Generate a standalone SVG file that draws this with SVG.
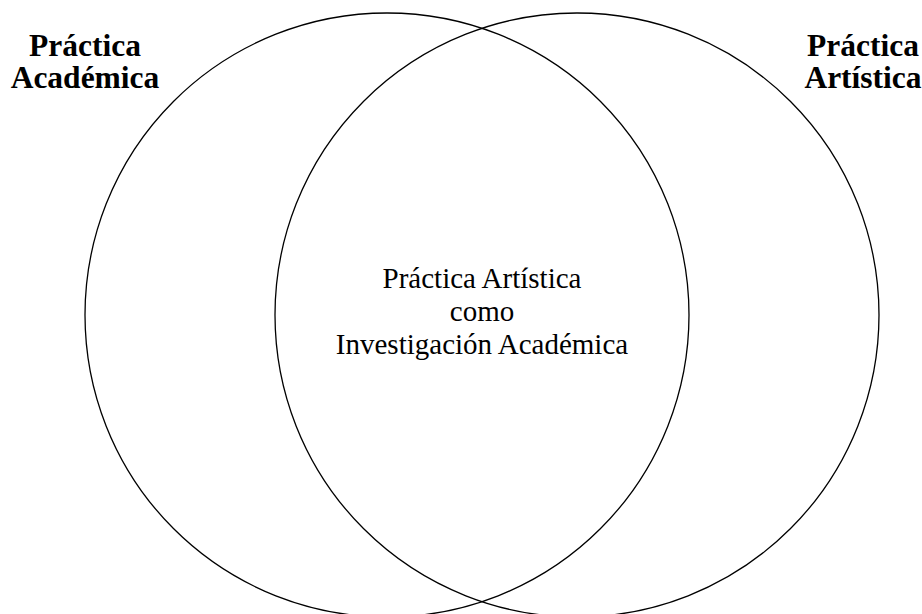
<svg xmlns="http://www.w3.org/2000/svg" width="922" height="614" viewBox="0 0 922 614">
  <style>
    .set { fill: none; stroke: #000; stroke-width: 1.3; }
    .head { font-family: "Liberation Serif", "Times New Roman", serif; font-weight: bold; font-size: 31.5px; fill: #000; text-anchor: middle; }
    .body { font-family: "Liberation Serif", "Times New Roman", serif; font-size: 29px; fill: #000; text-anchor: middle; }
  </style>
  <rect width="922" height="614" fill="#fff"/>
  <g id="academica">
    <circle class="set" cx="387" cy="315" r="302"/>
    <text class="head" x="85" y="56">Práctica</text>
    <text class="head" x="85" y="88">Académica</text>
  </g>
  <g id="artistica">
    <circle class="set" cx="577" cy="315" r="302"/>
    <text class="head" x="863" y="56">Práctica</text>
    <text class="head" x="863" y="88">Artística</text>
  </g>
  <g id="interseccion">
    <text class="body" x="482" y="288">Práctica Artística</text>
    <text class="body" x="482" y="321">como</text>
    <text class="body" x="482" y="354">Investigación Académica</text>
  </g>
  <g id="connectors"/>
</svg>
